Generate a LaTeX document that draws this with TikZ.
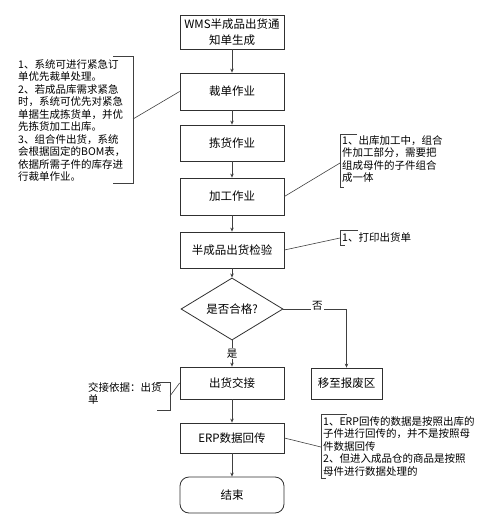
\documentclass[tikz,border=0pt]{standalone}
\usepackage{fontspec}
\newfontfamily\cjk{Noto Sans CJK SC}
\usepackage{tikz}
\usetikzlibrary{
arrows.meta,
positioning,
shapes.geometric
}
\definecolor{flowline}{HTML}{404040}
\definecolor{flowedge}{HTML}{303030}

\tikzset{
  flowbox/.style={draw=flowedge, line width=0.8pt, fill=white, minimum width=104pt, font=\cjk\fontsize{11.5}{16}\selectfont, align=center, inner sep=0pt},
  decide/.style={draw=flowedge, line width=0.8pt, diamond, minimum width=102pt, minimum height=48pt, inner sep=0pt, font=\cjk\fontsize{11.5}{14}\selectfont},
  endbox/.style={flowbox, rounded corners=9pt},
  notetext/.style={font=\cjk\fontsize{10.5}{12.5}\selectfont, align=left, anchor=north west, inner sep=0pt},
  noteline/.style={draw=flowline, line width=0.6pt},
  flowarrow/.style={draw=flowline, line width=0.7pt, -{Stealth[length=4pt,width=3.5pt]}},
  answer/.style={font=\cjk\fontsize{10.5}{12}\selectfont, fill=white, inner sep=1pt}
}

\begin{document}
\begin{tikzpicture}[x=1pt, y=-1pt, >=Stealth]
\useasboundingbox (0,0) rectangle (494,527);

% Main flow
\node[flowbox, minimum height=34pt] (wms) at (232,32) {WMS半成品出货通\\知单生成};
\node[flowbox, minimum height=37pt] (cutjob) at (232,91.5) {裁单作业};
\node[flowbox, minimum height=36pt] (pickjob) at (232,143) {拣货作业};
\node[flowbox, minimum height=37pt] (procjob) at (232,196.5) {加工作业};
\node[flowbox, minimum height=36pt] (checkjob) at (232,250) {半成品出货检验};
\node[decide] (passq) at (232,309) {是否合格?};
\node[flowbox, minimum height=32pt] (handover) at (232,383) {出货交接};
\node[flowbox, minimum width=71pt, minimum height=31pt] (scrap) at (346.5,383.5) {移至报废区};
\node[flowbox, minimum height=30pt] (erpback) at (232,438) {ERP数据回传};
\node[endbox, minimum height=36pt] (finish) at (232,495) {结束};

\draw[flowarrow] (wms) -- (cutjob);
\draw[flowarrow] (cutjob) -- (pickjob);
\draw[flowarrow] (pickjob) -- (procjob);
\draw[flowarrow] (procjob) -- (checkjob);
\draw[flowarrow] (checkjob) -- (passq);
\draw[flowarrow] (passq) -- node[answer] {是} (handover);
\draw[flowarrow] (passq.east) -| node[answer, pos=0.27, yshift=3pt] {否} (scrap.north);
\draw[flowarrow] (handover) -- (erpback);
\draw[flowarrow] (erpback) -- (finish);

% Notes
\node[notetext] (leftnote) at (18,59) {1、系统可进行紧急订\\单优先裁单处理。\\2、若成品库需求紧急\\时，系统可优先对紧急\\单据生成拣货单，并优\\先拣货加工出库。\\3、组合件出货，系统\\会根据固定的BOM表，\\依据所需子件的库存进\\行裁单作业。};
\draw[noteline] (113,56) -- (133,56) -- (133,183) -- (113,183);
\coordinate (leftpin) at (133,119);
\draw[noteline] (leftpin) -- (cutjob.west);

\node[notetext] (procnote) at (342,135) {1、出库加工中，组合\\件加工部分，需要把\\组成母件的子件组合\\成一体};
\draw[noteline] (357,134) -- (340,134) -- (340,187) -- (344,187);
\coordinate (procpin) at (340,163);
\draw[noteline] (procpin) -- (procjob.east);

\node[notetext] (checknote) at (342,232) {1、打印出货单};
\draw[noteline] (358,230) -- (340,230) -- (340,245) -- (345,245);
\coordinate (checkpin) at (340,238);
\draw[noteline] (checkpin) -- (checkjob.east);

\node[notetext] (handnote) at (88,382) {交接依据：出货\\单};
\draw[noteline] (157,382) -- (170,382) -- (170,410) -- (157,410);
\coordinate (handpin) at (170,396);
\draw[noteline] (handpin) -- (handover.west);

\node[notetext] (erpnote) at (323,416) {1、ERP回传的数据是按照出库的\\子件进行回传的，并不是按照母\\件数据回传\\2、但进入成品仓的商品是按照\\母件进行数据处理的};
\draw[noteline] (347,414) -- (321,414) -- (321,478) -- (326,478);
\coordinate (erppin) at (321,447);
\draw[noteline] (erppin) -- (erpback.east);

\end{tikzpicture}
\end{document}
